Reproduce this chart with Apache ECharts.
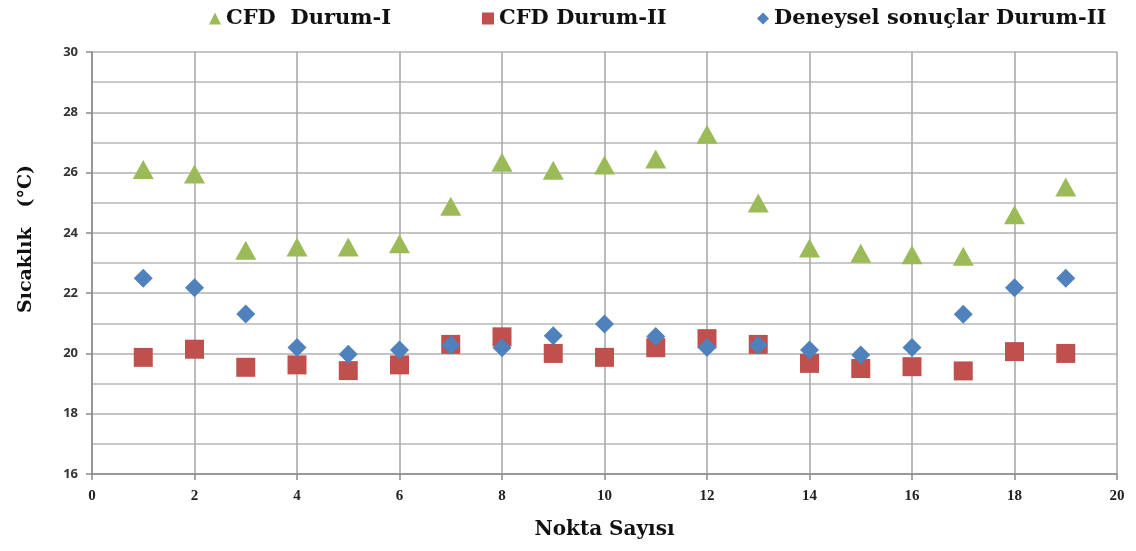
<!DOCTYPE html>
<html>
<head>
<meta charset="utf-8">
<script src="https://cdn.jsdelivr.net/npm/echarts@6/dist/echarts.min.js"></script>
<style>html,body{margin:0;padding:0;background:#fff}#c{width:1136px;height:551px}</style>
</head>
<body>
<div id="c"></div>
<script>
const points = [1,2,3,4,5,6,7,8,9,10,11,12,13,14,15,16,17,18,19];
const cfdDurumI = [26.1,25.95,23.42,23.53,23.53,23.64,24.88,26.34,26.08,26.25,26.45,27.27,24.99,23.5,23.32,23.27,23.22,24.6,25.52];
const cfdDurumII = [19.87,20.14,19.54,19.62,19.43,19.62,20.3,20.55,20.0,19.87,20.19,20.49,20.3,19.67,19.5,19.56,19.42,20.06,20.0];
const deneyselDurumII = [22.49,22.18,21.31,20.2,19.97,20.11,20.28,20.19,20.59,20.98,20.56,20.2,20.28,20.11,19.95,20.2,21.3,22.18,22.49];
const seriesNames = ['CFD  Durum-I','CFD Durum-II','Deneysel sonuçlar Durum-II'];
const xTitle = 'Nokta Sayısı';
const yTitle = 'Sıcaklık   (°C)';

const pair = (vals) => points.map((x,i)=>[x, vals[i]]);
const serif = '"Liberation Serif","DejaVu Serif",serif';
const wideSerif = '"DejaVu Serif","Liberation Serif",serif';
const legendText = {fontFamily: wideSerif, fontWeight:'bold', fontSize:21, color:'#111'};
function lg(name, left){
  return {data:[name], left:left, top:3, itemWidth:12, itemHeight:12, itemGap:5, textStyle:legendText, selectedMode:false};
}
const chart = echarts.init(document.getElementById('c'), null, {renderer:'canvas'});
chart.setOption({
  animation:false,
  backgroundColor:'#fff',
  legend:[lg(seriesNames[0],204), lg(seriesNames[1],477), lg(seriesNames[2],752)],
  grid:{left:92, right:19, top:52, bottom:77, containLabel:false},
  xAxis:{
    type:'value', min:0, max:20, interval:2,
    name:xTitle, nameLocation:'middle', nameGap:46,
    nameTextStyle:{fontFamily:wideSerif, fontWeight:'bold', fontSize:20, color:'#111'},
    axisLine:{show:true, onZero:false, lineStyle:{color:'#8a8a8a', width:1.5}},
    axisTick:{show:true, length:6, lineStyle:{color:'#8a8a8a', width:1.5}},
    axisLabel:{fontFamily:serif, fontWeight:'bold', fontSize:15, color:'#222', margin:15},
    splitLine:{show:true, lineStyle:{color:'#a6a6a6', width:1.5}}
  },
  yAxis:{
    type:'value', min:16, max:30, interval:2,
    name:yTitle, nameLocation:'middle', nameGap:56, nameRotate:90,
    nameTextStyle:{fontFamily:wideSerif, fontWeight:'bold', fontSize:19, color:'#111', padding:[0,0,0,48]},
    axisLine:{show:true, lineStyle:{color:'#8a8a8a', width:1.5}},
    axisTick:{show:true, length:6, lineStyle:{color:'#8a8a8a', width:1.5}},
    axisLabel:{fontFamily:'"Open Sans","Liberation Sans",sans-serif', fontWeight:'bold', fontSize:13, color:'#333', margin:14},
    splitLine:{show:true, lineStyle:{color:'#b0b0b0', width:1.5}},
    minorTick:{show:false, splitNumber:2},
    minorSplitLine:{show:true, lineStyle:{color:'#b8b8b8', width:1.5}}
  },
  series:[
    {name:seriesNames[0], type:'scatter', symbol:'triangle', symbolSize:[21,19], data:pair(cfdDurumI), itemStyle:{color:'#9BBB59', opacity:1}, z:3},
    {name:seriesNames[1], type:'scatter', symbol:'rect', symbolSize:19, data:pair(cfdDurumII), itemStyle:{color:'#C0504D', opacity:1}, z:4},
    {name:seriesNames[2], type:'scatter', symbol:'diamond', symbolSize:[19,19], data:pair(deneyselDurumII), itemStyle:{color:'#4F81BD', opacity:1}, z:5}
  ]
});
</script>
</body>
</html>
